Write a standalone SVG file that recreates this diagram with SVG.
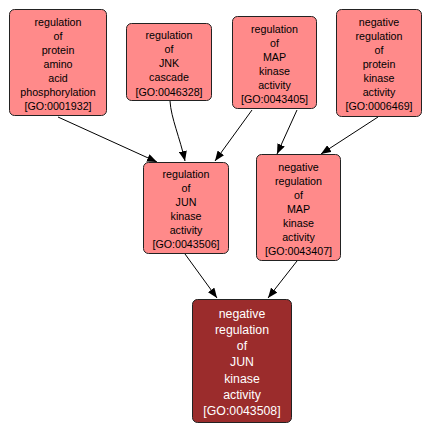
<svg xmlns="http://www.w3.org/2000/svg" width="433" height="433" viewBox="0 0 433 433">
<defs>
<style>
.n rect{fill:#ff8a8a;stroke:#222;stroke-width:1}
.n text{font-family:"Liberation Sans",Arial,sans-serif;font-size:10.7px;fill:#000;text-anchor:middle}
#g rect{fill:#9b2c2c}
#g text{fill:#fff;font-size:12.3px}
.e path{fill:none;stroke:#000;stroke-width:1}
</style>
<marker id="ah" viewBox="0 0 10 8" refX="10" refY="4" markerWidth="10" markerHeight="8" markerUnits="userSpaceOnUse" orient="auto">
<path d="M0,0 L10,4 L0,8 Z" fill="#000"/>
</marker>
</defs>
<rect width="433" height="433" fill="#fff"/>
<g class="e">
<path d="M58,117 L157,162" marker-end="url(#ah)"/>
<path d="M170,101 C171,118 180,138 185,161" marker-end="url(#ah)"/>
<path d="M252,110 L215,161" marker-end="url(#ah)"/>
<path d="M297,110 L277,154" marker-end="url(#ah)"/>
<path d="M378,117 L321,154" marker-end="url(#ah)"/>
<path d="M185,254 L217,298" marker-end="url(#ah)"/>
<path d="M297,261 L268,298" marker-end="url(#ah)"/>
</g>
<g id="a" class="n"><rect x="9.5" y="9.5" width="97" height="106" rx="5"/>
<text x="58" y="25.5">regulation</text><text x="58" y="39.5">of</text><text x="58" y="53.5">protein</text><text x="58" y="67.5">amino</text><text x="58" y="81.5">acid</text><text x="58" y="95.5">phosphorylation</text><text x="58" y="109.5">[GO:0001932]</text></g>
<g id="b" class="n"><rect x="126.5" y="23.5" width="85" height="77" rx="5"/>
<text x="169" y="39">regulation</text><text x="169" y="53">of</text><text x="169" y="67">JNK</text><text x="169" y="81">cascade</text><text x="169" y="95.5">[GO:0046328]</text></g>
<g id="c" class="n"><rect x="232.5" y="16.5" width="84" height="92" rx="5"/>
<text x="274.5" y="33">regulation</text><text x="274.5" y="47">of</text><text x="274.5" y="61">MAP</text><text x="274.5" y="75">kinase</text><text x="274.5" y="89">activity</text><text x="274.5" y="103">[GO:0043405]</text></g>
<g id="d" class="n"><rect x="336.5" y="9.5" width="85" height="107" rx="5"/>
<text x="379" y="25.5">negative</text><text x="379" y="39.5">regulation</text><text x="379" y="53.5">of</text><text x="379" y="67.5">protein</text><text x="379" y="81.5">kinase</text><text x="379" y="95.5">activity</text><text x="379" y="109.5">[GO:0006469]</text></g>
<g id="e" class="n"><rect x="143.5" y="162.5" width="85" height="91" rx="5"/>
<text x="186" y="178">regulation</text><text x="186" y="192">of</text><text x="186" y="206">JUN</text><text x="186" y="220">kinase</text><text x="186" y="234">activity</text><text x="186" y="248">[GO:0043506]</text></g>
<g id="f" class="n"><rect x="256.5" y="154.5" width="84" height="106" rx="5"/>
<text x="298.5" y="171">negative</text><text x="298.5" y="185">regulation</text><text x="298.5" y="199">of</text><text x="298.5" y="213">MAP</text><text x="298.5" y="227">kinase</text><text x="298.5" y="241">activity</text><text x="298.5" y="255">[GO:0043407]</text></g>
<g id="g" class="n"><rect x="192.5" y="299.5" width="99" height="123" rx="5"/>
<text x="242" y="317.5">negative</text><text x="242" y="333.8">regulation</text><text x="242" y="350.1">of</text><text x="242" y="366.4">JUN</text><text x="242" y="382.7">kinase</text><text x="242" y="399">activity</text><text x="242" y="415.3">[GO:0043508]</text></g>
</svg>
